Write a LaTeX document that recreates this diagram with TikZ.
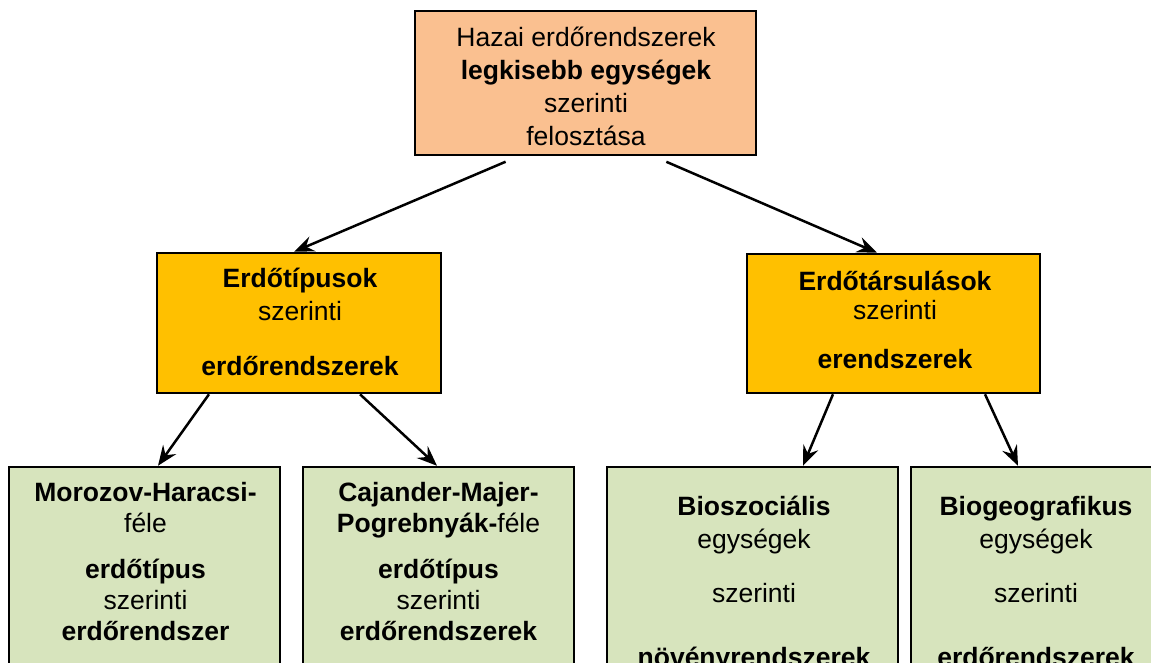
\documentclass[tikz,border=0pt]{standalone}
\usepackage{fontspec}
\setmainfont{Liberation Sans}
\usetikzlibrary{arrows.meta}
\definecolor{peach}{HTML}{FAC090}
\definecolor{gold}{HTML}{FFC000}
\definecolor{sage}{HTML}{D7E4BD}
\begin{document}
\begin{tikzpicture}[x=1pt,y=-1pt,
  box/.style={draw=black, line width=2.5pt, inner sep=0pt},
  txt/.style={align=center, inner sep=0pt, anchor=base},
  arr/.style={-{Stealth[length=20pt,width=16pt,inset=7pt]}, line width=2.5pt}]
\useasboundingbox (0,0) rectangle (1151,662);
\clip (0,0) rectangle (1151,662);

% boxes
\node[box, fill=peach, minimum width=341pt, minimum height=144pt] (top) at (585.5,83) {};
\node[box, fill=gold, minimum width=284pt, minimum height=140pt] (midL) at (299,323) {};
\node[box, fill=gold, minimum width=293pt, minimum height=139pt] (midR) at (893.5,323.5) {};
\node[box, fill=sage, minimum width=271pt, minimum height=233pt] (b1) at (144.5,583.5) {};
\node[box, fill=sage, minimum width=271pt, minimum height=233pt] (b2) at (438.5,583.5) {};
\node[box, fill=sage, minimum width=291pt, minimum height=233pt] (b3) at (752.5,583.5) {};
\node[box, fill=sage, minimum width=250pt, minimum height=233pt] (b4) at (1036,583.5) {};

% texts (placed by the baseline of their last line)
\node[txt, font=\fontsize{26.5}{33}\selectfont] (topt) at (586,145)
  {Hazai erdőrendszerek\\\textbf{legkisebb egységek}\\szerinti\\felosztása};
\node[txt, font=\fontsize{26.5}{33}\selectfont] (midLt) at (300,375)
  {\textbf{Erdőtípusok}\\szerinti\\[22pt]\textbf{erdőrendszerek}};
\node[txt, font=\fontsize{26.5}{29}\selectfont] (midRt) at (895,368)
  {\textbf{Erdőtársulások}\\szerinti\\[20pt]\textbf{erendszerek}};
\node[txt, font=\fontsize{26.5}{31}\selectfont] (b1t) at (145.5,640)
  {\textbf{Morozov-Haracsi-}\\féle\\[15pt]\textbf{erdőtípus}\\szerinti\\\textbf{erdőrendszer}};
\node[txt, font=\fontsize{26.5}{31}\selectfont] (b2t) at (438.5,640)
  {\textbf{Cajander-Majer-}\\\textbf{Pogrebnyák-}féle\\[15pt]\textbf{erdőtípus}\\szerinti\\\textbf{erdőrendszerek}};
\node[txt, font=\fontsize{26.5}{33}\selectfont] (b3t) at (754,666)
  {\textbf{Bioszociális}\\egységek\\[21pt]szerinti\\[31pt]\textbf{növényrendszerek}};
\node[txt, font=\fontsize{26.5}{33}\selectfont] (b4t) at (1036,666)
  {\textbf{Biogeografikus}\\egységek\\[21pt]szerinti\\[31pt]\textbf{erdőrendszerek}};

% connectors
\draw[arr, shorten <=14pt] ([xshift=-67pt]top.south) -- ([xshift=-5pt]midL.north);
\draw[arr, shorten <=14pt] ([xshift=68pt]top.south) -- ([xshift=-16.5pt]midR.north);
\draw[arr] ([xshift=-90pt]midL.south) -- ([xshift=13.5pt]b1.north);
\draw[arr] ([xshift=61pt]midL.south) -- ([xshift=-1.5pt]b2.north);
\draw[arr] ([xshift=-60.5pt]midR.south) -- ([xshift=50.5pt]b3.north);
\draw[arr] ([xshift=91.5pt]midR.south) -- ([xshift=-18pt]b4.north);
\end{tikzpicture}
\end{document}
